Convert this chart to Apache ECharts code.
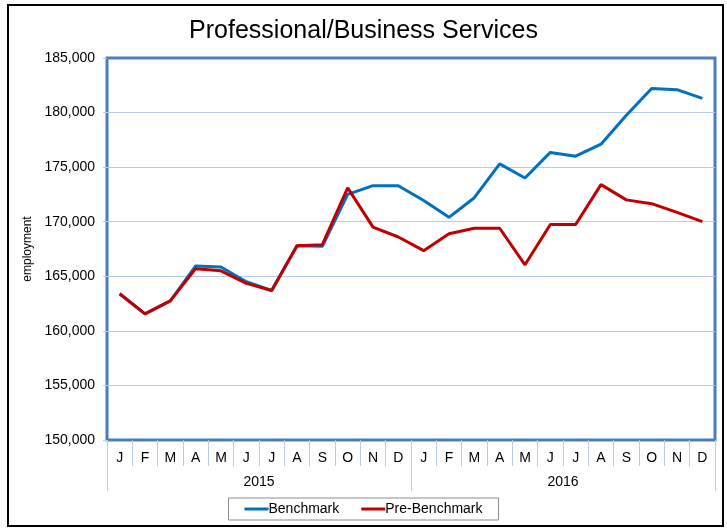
<!DOCTYPE html>
<html>
<head>
<meta charset="utf-8">
<script src="https://cdn.jsdelivr.net/npm/echarts@6/dist/echarts.min.js"></script>
<style>
  html, body { margin: 0; padding: 0; background: #fff; }
  #chart { width: 727px; height: 529px; }
</style>
</head>
<body>
<div id="chart"></div>
<script>
const months = ['J', 'F', 'M', 'A', 'M', 'J', 'J', 'A', 'S', 'O', 'N', 'D',
  'J', 'F', 'M', 'A', 'M', 'J', 'J', 'A', 'S', 'O', 'N', 'D']
const years = ['2015', '2016']

const benchmark = [163400, 161550, 162750, 165950, 165850, 164500, 163700, 167800, 167750, 172500, 173300, 173300,
  171950, 170400, 172200, 175300, 174000, 176350, 176000, 177100, 179750, 182200, 182100, 181300]
const preBenchmark = [163400, 161550, 162750, 165700, 165500, 164350, 163700, 167800, 167900, 173100, 169500, 168600,
  167350, 168900, 169400, 169400, 166050, 169750, 169750, 173400, 172000, 171650, 170850, 170000]

const borderBlue = '#4A7EBB'
const gridBlue = '#B7CCE6'

const chart = echarts.init(document.getElementById('chart'))

const lineSeries = (name, data, color) => ({
  name,
  data,
  type: 'line',
  symbol: 'none',
  lineStyle: { color, width: 3 },
  itemStyle: { color },
  z: name === 'Benchmark' ? 2 : 3
})

const option = {
  animation: false,
  textStyle: { fontFamily: 'Liberation Sans, Arial, sans-serif' },
  title: {
    text: 'Professional/Business Services',
    left: 'center',
    top: 14,
    textStyle: { fontSize: 25, fontWeight: 'normal', color: '#000' }
  },
  graphic: [{
    type: 'rect',
    shape: { x: 8, y: 5, width: 715, height: 521 },
    style: { fill: 'none', stroke: '#000', lineWidth: 2 },
    silent: true
  }],
  grid: {
    left: 107,
    right: 12,
    top: 58,
    bottom: 89,
    show: true,
    borderColor: borderBlue,
    borderWidth: 3
  },
  legend: {
    bottom: 9,
    left: 'center',
    padding: [4, 16, 4, 16],
    borderColor: '#8c8c8c',
    borderWidth: 1,
    itemWidth: 24,
    itemHeight: 3,
    itemGap: 22,
    icon: 'rect',
    textStyle: { fontSize: 14, color: '#000', padding: [0, 0, 0, -5] },
    data: ['Benchmark', 'Pre-Benchmark']
  },
  xAxis: [{
    type: 'category',
    position: 'bottom',
    data: months,
    axisLine: { show: false },
    axisTick: { show: true, length: 26, interval: 0, lineStyle: { color: gridBlue, width: 1 } },
    axisLabel: { interval: 0, margin: 11, fontSize: 14, color: '#000' },
    splitLine: { show: false }
  }, {
    type: 'category',
    position: 'bottom',
    data: years,
    axisLine: { show: false },
    axisTick: { show: true, length: 51, interval: 0, lineStyle: { color: gridBlue, width: 1 } },
    axisLabel: { interval: 0, margin: 35, fontSize: 14, color: '#000' },
    splitLine: { show: false }
  }],
  yAxis: {
    type: 'value',
    min: 150000,
    max: 185000,
    interval: 5000,
    name: 'employment',
    nameLocation: 'middle',
    nameGap: 70,
    nameTextStyle: { fontSize: 12, color: '#000' },
    axisLine: { show: false },
    axisTick: { show: true, length: 4, lineStyle: { color: gridBlue } },
    axisLabel: {
      fontSize: 14,
      color: '#000',
      margin: 12,
      formatter: v => v.toLocaleString('en-US')
    },
    splitLine: { show: true, showMinLine: false, showMaxLine: false, lineStyle: { color: gridBlue, width: 1 } }
  },
  series: [
    lineSeries('Benchmark', benchmark, '#0070C0'),
    lineSeries('Pre-Benchmark', preBenchmark, '#C00000')
  ]
}

chart.setOption(option)
</script>
</body>
</html>
